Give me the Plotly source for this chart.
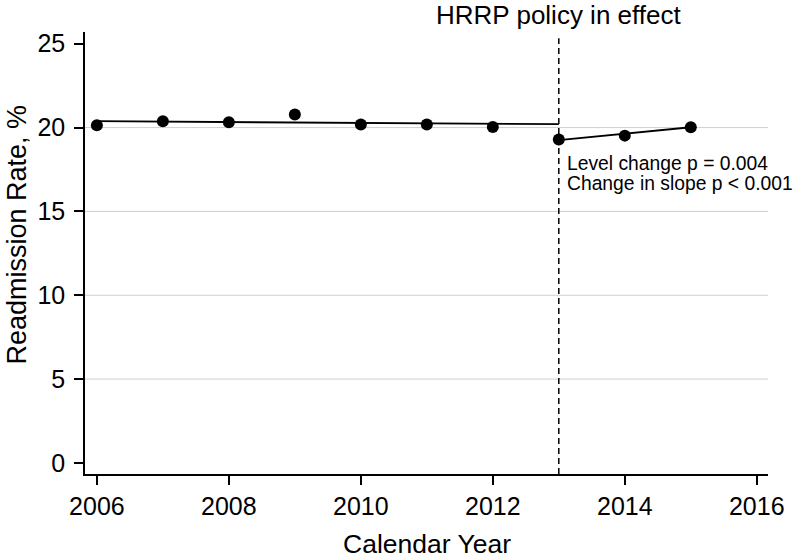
import plotly.graph_objects as go

years = [2006, 2007, 2008, 2009, 2010, 2011, 2012, 2013, 2014, 2015]
rates = [20.14, 20.38, 20.32, 20.78, 20.18, 20.18, 20.04, 19.29, 19.52, 20.02]

pre_fit_x = [2006, 2013]
pre_fit_y = [20.38, 20.20]
post_fit_x = [2013, 2015]
post_fit_y = [19.25, 20.02]

policy_year = 2013
grid_vals = [5, 10, 15, 20]
y_ticks = [0, 5, 10, 15, 20, 25]
x_ticks = [2006, 2008, 2010, 2012, 2014, 2016]

FONT = "Liberation Sans, Arial, Helvetica, sans-serif"

fig = go.Figure()

for g in grid_vals:
    fig.add_shape(type="line", xref="paper", yref="y", x0=0, x1=1, y0=g, y1=g,
                  line=dict(color="#d0d0d0", width=1), layer="below")

fig.add_shape(type="line", xref="x", yref="paper", x0=policy_year, x1=policy_year,
              y0=0, y1=0.986, line=dict(color="black", width=1.5, dash="6px,4px"))

fig.add_trace(go.Scatter(x=pre_fit_x, y=pre_fit_y, mode="lines",
                         line=dict(color="black", width=1.8), showlegend=False))
fig.add_trace(go.Scatter(x=post_fit_x, y=post_fit_y, mode="lines",
                         line=dict(color="black", width=1.8), showlegend=False))
fig.add_trace(go.Scatter(x=years, y=rates, mode="markers",
                         marker=dict(color="black", size=12), showlegend=False))

fig.add_annotation(x=policy_year, xref="x", y=1.0385, yref="paper",
                   text="HRRP policy in effect", showarrow=False,
                   xanchor="center", yanchor="middle",
                   font=dict(family=FONT, size=26, color="black"))
fig.add_annotation(x=policy_year + 0.1, xref="x", y=17.88, yref="y",
                   text="Level change p = 0.004", showarrow=False,
                   xanchor="left", yanchor="middle",
                   font=dict(family=FONT, size=19.3, color="black"))
fig.add_annotation(x=policy_year + 0.1, xref="x", y=16.69, yref="y",
                   text="Change in slope p < 0.001", showarrow=False,
                   xanchor="left", yanchor="middle",
                   font=dict(family=FONT, size=19.3, color="black"))

# axis titles placed as annotations for exact positioning
fig.add_annotation(x=0.501, xref="paper", y=-0.158, yref="paper",
                   text="Calendar Year", showarrow=False,
                   xanchor="center", yanchor="middle",
                   font=dict(family=FONT, size=26.5, color="black"))
fig.add_annotation(x=-0.1, xref="paper", y=0.541, yref="paper",
                   text="Readmission Rate, %", showarrow=False, textangle=-90,
                   xanchor="center", yanchor="middle",
                   font=dict(family=FONT, size=27, color="black"))

fig.update_layout(
    width=793, height=559,
    margin=dict(l=85, r=25, t=32, b=85),
    plot_bgcolor="white", paper_bgcolor="white",
    font=dict(family=FONT, size=25, color="black"),
    xaxis=dict(range=[2005.82, 2016.17], tickvals=x_ticks, showgrid=False,
               zeroline=False, showline=True, linecolor="black", linewidth=1.5,
               ticks="outside", ticklen=9, tickwidth=1.5, tickcolor="black",
               tickfont=dict(size=25), automargin=False),
    yaxis=dict(range=[-0.66, 25.7], tickvals=y_ticks, showgrid=False,
               zeroline=False, showline=True, linecolor="black", linewidth=1.5,
               ticks="outside", ticklen=9, tickwidth=1.5, tickcolor="black",
               tickfont=dict(size=25), automargin=False, ticklabelstandoff=4),
)

fig.write_html("out.html",
               config={"displayModeBar": False},
               post_script="document.body.style.margin='0';document.body.style.overflow='hidden';")
